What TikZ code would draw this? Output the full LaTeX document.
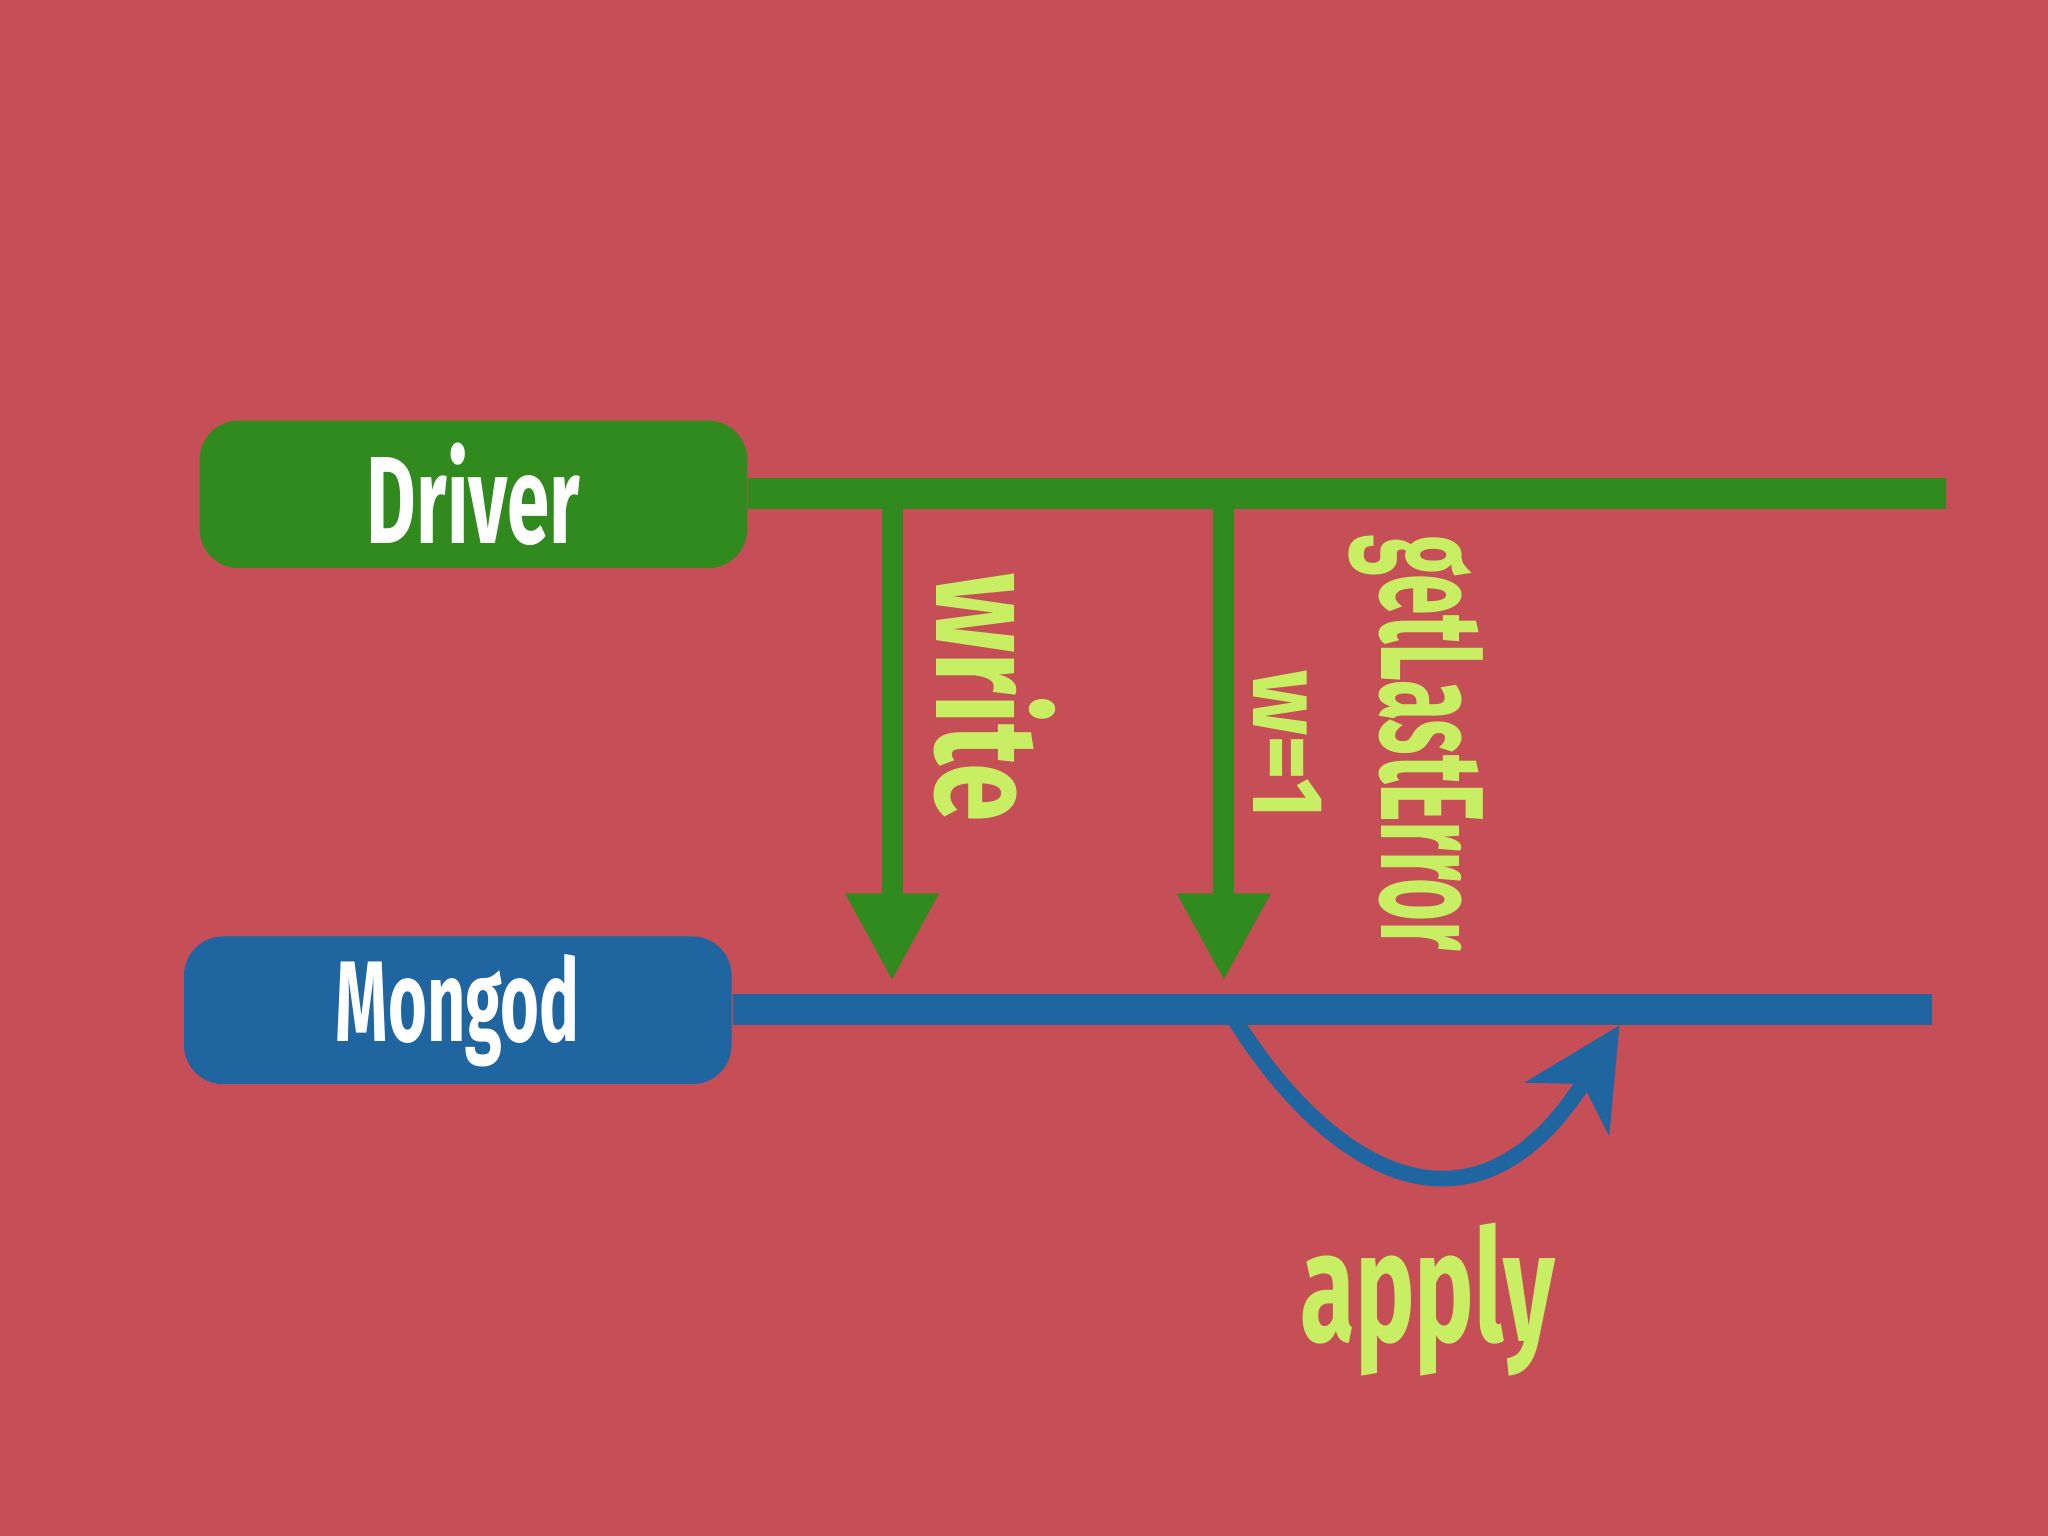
\documentclass[tikz,border=0pt]{standalone}
\usepackage{fontspec}
\setmainfont{Fira Sans}[FakeStretch=0.72]
\newfontfamily\fa{Fira Sans}[FakeStretch=0.615]
\newfontfamily\fb{Fira Sans}[FakeStretch=0.58]
\newfontfamily\fc{Fira Sans}[FakeStretch=0.86]
\newfontfamily\fd{Fira Sans}[FakeStretch=0.5]
\newfontfamily\fe{Fira Sans}[FakeStretch=0.64]
\usetikzlibrary{arrows.meta}
\definecolor{bg}{HTML}{C64E57}
\definecolor{dgreen}{HTML}{318A1E}
\definecolor{dblue}{HTML}{1F65A0}
\definecolor{lime}{HTML}{C8EE64}
\begin{document}
\begin{tikzpicture}[x=0.01cm,y=-0.01cm,
  box/.style={rounded corners=0.3cm,minimum width=4.19cm,minimum height=1.13cm,text=white,inner sep=0},
  gline/.style={dgreen,line width=0.24cm},
  bline/.style={dblue,line width=0.24cm},
  garrow/.style={dgreen,line width=0.16cm,-{Triangle[length=0.67cm,width=0.67cm]}},
  lbl/.style={text=lime,inner sep=0}]
\fill[bg] (0,0) rectangle (1568,1176);
\useasboundingbox (0,0) rectangle (1568,1176);
\node[box,fill=dgreen,font=\fa\fontsize{27}{30}\selectfont\bfseries] (driver) at (362.5,378.5) {Driver};
\node[box,fill=dblue,font=\fb\fontsize{25}{28}\selectfont\bfseries] (mongod) at (350.5,773.5) {Mongod};
\coordinate (dend) at (1490,378);
\coordinate (mend) at (1479,773);
\draw[gline] (driver.east |- dend) -- (dend);
\draw[bline] (mongod.east |- mend) -- (mend);
\coordinate (w1) at (683,378); \coordinate (w2) at (683,751);
\coordinate (g1) at (937,378); \coordinate (g2) at (937,751);
\draw[garrow] (w1) -- (w2);
\draw[garrow] (g1) -- (g2);
\node[lbl,rotate=-90,font=\fontsize{32}{34}\selectfont\bfseries] (write) at (762,534) {write};
\node[lbl,rotate=-90,font=\fc\fontsize{22}{24}\selectfont\bfseries] (w) at (986,570) {w=1};
\node[lbl,rotate=-90,font=\fd\fontsize{32}{34}\selectfont\bfseries] (gle) at (1084,569) {getLastError};
\coordinate (a1) at (945,780); \coordinate (a2) at (1240,785);
\draw[dblue,line width=0.12cm,-{Stealth[length=0.75cm,width=0.75cm,inset=0.22cm]}]
  (a1) .. controls (1020,900) and (1130,960) .. (a2);
\node[lbl,font=\fe\fontsize{34}{36}\selectfont\bfseries] (apply) at (1093,995) {apply};
\end{tikzpicture}
\end{document}
